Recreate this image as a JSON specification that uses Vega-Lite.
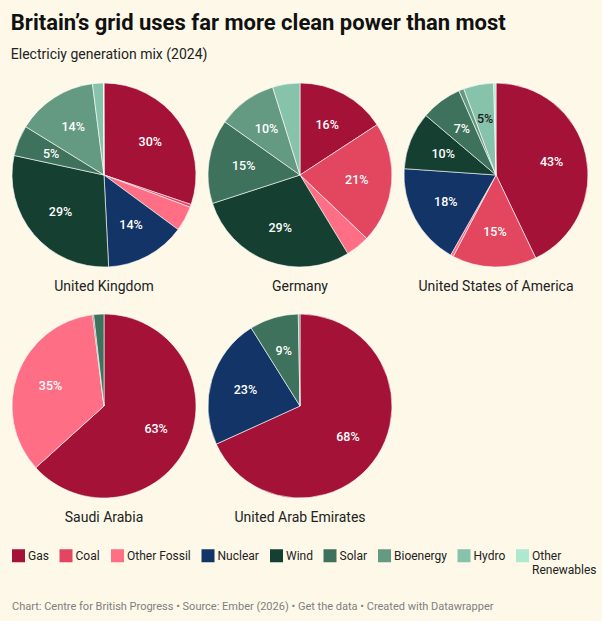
{
  "$schema": "https://vega.github.io/schema/vega-lite/v6.json",
  "background": "#fdf8e8",
  "padding": {"left": 10, "top": 11, "right": 5, "bottom": 8},
  "title": {
    "text": "Britain’s grid uses far more clean power than most",
    "subtitle": "Electriciy generation mix (2024)",
    "anchor": "start",
    "font": "Roboto",
    "fontSize": 22,
    "fontWeight": "bold",
    "color": "#111111",
    "subtitleFont": "Roboto",
    "subtitleFontSize": 14,
    "subtitleColor": "#222222",
    "subtitlePadding": 13,
    "offset": 19
  },
  "config": {
    "view": {"stroke": null},
    "font": "Roboto",
    "concat": {"spacing": 25}
  },
  "datasets": {
    "mix": [
      {"country": "United Kingdom", "cidx": 1, "source": "Gas", "sidx": 1, "share": 0.302},
      {"country": "United Kingdom", "cidx": 1, "source": "Coal", "sidx": 2, "share": 0.005},
      {"country": "United Kingdom", "cidx": 1, "source": "Other Fossil", "sidx": 3, "share": 0.044},
      {"country": "United Kingdom", "cidx": 1, "source": "Nuclear", "sidx": 4, "share": 0.141},
      {"country": "United Kingdom", "cidx": 1, "source": "Wind", "sidx": 5, "share": 0.292},
      {"country": "United Kingdom", "cidx": 1, "source": "Solar", "sidx": 6, "share": 0.054},
      {"country": "United Kingdom", "cidx": 1, "source": "Bioenergy", "sidx": 7, "share": 0.142},
      {"country": "United Kingdom", "cidx": 1, "source": "Hydro", "sidx": 8, "share": 0.019},
      {"country": "United Kingdom", "cidx": 1, "source": "Other Renewables", "sidx": 9, "share": 0.001},
      {"country": "Germany", "cidx": 2, "source": "Gas", "sidx": 1, "share": 0.158},
      {"country": "Germany", "cidx": 2, "source": "Coal", "sidx": 2, "share": 0.213},
      {"country": "Germany", "cidx": 2, "source": "Other Fossil", "sidx": 3, "share": 0.042},
      {"country": "Germany", "cidx": 2, "source": "Wind", "sidx": 5, "share": 0.287},
      {"country": "Germany", "cidx": 2, "source": "Solar", "sidx": 6, "share": 0.148},
      {"country": "Germany", "cidx": 2, "source": "Bioenergy", "sidx": 7, "share": 0.104},
      {"country": "Germany", "cidx": 2, "source": "Hydro", "sidx": 8, "share": 0.048},
      {"country": "United States of America", "cidx": 3, "source": "Gas", "sidx": 1, "share": 0.429},
      {"country": "United States of America", "cidx": 3, "source": "Coal", "sidx": 2, "share": 0.148},
      {"country": "United States of America", "cidx": 3, "source": "Other Fossil", "sidx": 3, "share": 0.005},
      {"country": "United States of America", "cidx": 3, "source": "Nuclear", "sidx": 4, "share": 0.179},
      {"country": "United States of America", "cidx": 3, "source": "Wind", "sidx": 5, "share": 0.101},
      {"country": "United States of America", "cidx": 3, "source": "Solar", "sidx": 6, "share": 0.072},
      {"country": "United States of America", "cidx": 3, "source": "Bioenergy", "sidx": 7, "share": 0.009},
      {"country": "United States of America", "cidx": 3, "source": "Hydro", "sidx": 8, "share": 0.053},
      {"country": "United States of America", "cidx": 3, "source": "Other Renewables", "sidx": 9, "share": 0.004},
      {"country": "Saudi Arabia", "cidx": 4, "source": "Gas", "sidx": 1, "share": 0.633},
      {"country": "Saudi Arabia", "cidx": 4, "source": "Other Fossil", "sidx": 3, "share": 0.347},
      {"country": "Saudi Arabia", "cidx": 4, "source": "Wind", "sidx": 5, "share": 0.002},
      {"country": "Saudi Arabia", "cidx": 4, "source": "Solar", "sidx": 6, "share": 0.018},
      {"country": "United Arab Emirates", "cidx": 5, "source": "Gas", "sidx": 1, "share": 0.682},
      {"country": "United Arab Emirates", "cidx": 5, "source": "Nuclear", "sidx": 4, "share": 0.229},
      {"country": "United Arab Emirates", "cidx": 5, "source": "Solar", "sidx": 6, "share": 0.086},
      {"country": "United Arab Emirates", "cidx": 5, "source": "Bioenergy", "sidx": 7, "share": 0.003}
    ],
    "credits": [
      {"note": "Chart: Centre for British Progress • Source: Ember (2026) • Get the data • Created with Datawrapper"}
    ]
  },
  "resolve": {"legend": {"color": "independent"}},
  "vconcat": [
    {
      "data": {"name": "mix"},
      "facet": {
        "field": "country",
        "type": "nominal",
        "sort": {"field": "cidx", "op": "min"},
        "header": {
          "title": null,
          "labelOrient": "bottom",
          "labelFont": "Roboto",
          "labelFontSize": 14,
          "labelColor": "#222222",
          "labelPadding": 12
        }
      },
      "columns": 3,
      "spacing": {"column": 8, "row": 17},
      "resolve": {"scale": {"theta": "independent"}},
      "spec": {
        "width": 184,
        "height": 184,
        "layer": [
          {
            "mark": {"type": "arc", "outerRadius": 92, "stroke": "#ffffff", "strokeWidth": 0.6},
            "encoding": {
              "theta": {"field": "share", "type": "quantitative", "stack": true},
              "order": {"field": "sidx", "type": "quantitative"},
              "color": {
                "field": "source",
                "type": "nominal",
                "scale": {
                  "domain": ["Gas", "Coal", "Other Fossil", "Nuclear", "Wind", "Solar", "Bioenergy", "Hydro", "Other Renewables"],
                  "range": ["#a51237", "#e3465f", "#fe6e85", "#133467", "#143f31", "#3e725c", "#659a82", "#87c2aa", "#ade8cf"]
                },
                "legend": {
                  "title": null,
                  "orient": "bottom",
                  "direction": "horizontal",
                  "symbolType": "square",
                  "symbolSize": 169,
                  "symbolStrokeWidth": 0,
                  "labelFont": "Roboto",
                  "labelFontSize": 12,
                  "labelColor": "#222222",
                  "labelOffset": 3,
                  "columnPadding": 10.5,
                  "offset": 23,
                  "labelExpr": "datum.label === 'Other Renewables' ? ['Other', 'Renewables'] : [datum.label, '']",
                  "encode": {
                    "labels": {
                      "update": {
                        "dy": {"value": 8.5},
                        "lineHeight": {"value": 17}
                      }
                    }
                  }
                }
              }
            }
          },
          {
            "mark": {"type": "text", "radius": 57, "font": "Roboto", "fontSize": 12.5, "fontWeight": 500},
            "encoding": {
              "theta": {"field": "share", "type": "quantitative", "stack": true},
              "order": {"field": "sidx", "type": "quantitative"},
              "detail": {"field": "source", "type": "nominal"},
              "text": {"field": "share", "type": "quantitative", "format": ".0%"},
              "color": {
                "condition": {"test": "datum.source === 'Hydro'", "value": "#1a1a1a"},
                "value": "#ffffff"
              },
              "opacity": {
                "condition": {"test": "datum.share >= 0.05", "value": 1},
                "value": 0
              }
            }
          }
        ]
      }
    },
    {
      "data": {"name": "credits"},
      "width": 580,
      "height": 12,
      "mark": {"type": "text", "align": "left", "baseline": "middle", "font": "Roboto", "fontSize": 11, "color": "#7f7f7f"},
      "encoding": {
        "text": {"field": "note", "type": "nominal"},
        "x": {"value": 0}
      }
    }
  ]
}
